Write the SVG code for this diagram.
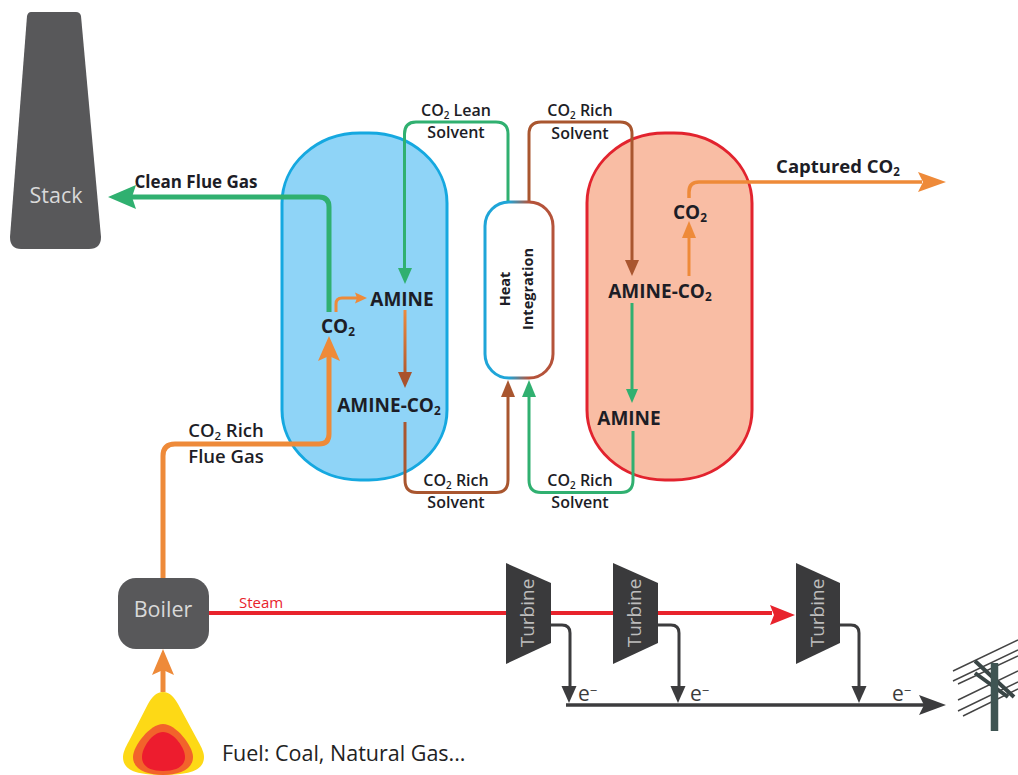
<svg xmlns="http://www.w3.org/2000/svg" width="1018" height="775" viewBox="0 0 1018 775">
<defs>
<linearGradient id="hb" x1="0" x2="1" y1="0" y2="0"><stop offset="0" stop-color="#1fa5d8"/><stop offset="0.35" stop-color="#1fa5d8"/><stop offset="0.65" stop-color="#b5533a"/><stop offset="1" stop-color="#b5533a"/></linearGradient>
<linearGradient id="or" gradientUnits="userSpaceOnUse" x1="0" x2="0" y1="310" y2="385"><stop offset="0" stop-color="#ed8a3c"/><stop offset="1" stop-color="#a9522c"/></linearGradient>
</defs>
<style>
text{font-family:"Open Sans","Liberation Sans",sans-serif;fill:#1d1d26}
.b{font-weight:700;font-size:19px}
.s{font-weight:600;font-size:16px}
.l{font-weight:600;font-size:18.5px}
.w{fill:#d9d9d9;font-size:21.5px}
.t{fill:#bdbdbd;font-size:19px}
.e{fill:#3c3c3c;font-size:21px}
.c{fill:none;stroke-linejoin:round}
.g{stroke:#30b070}.br{stroke:#a9562f}.o{stroke:#ee8a39}.dk{stroke:#3c3c3e}
.sb{font-size:62%}
</style>
<g id="absorber"><rect x="282" y="133" width="165" height="347" rx="78" ry="70" fill="#8fd4f7" stroke="#15a8e0" stroke-width="3"/></g>
<g id="stripper"><rect x="587" y="133" width="165" height="347" rx="78" ry="70" fill="#f9bda4" stroke="#e2232e" stroke-width="3"/></g>
<g id="connectors">
<path class="c g" stroke-width="5" d="M329 312V207Q329 197 319 197H132"/>
<polygon points="108,197 136,185 132,197 136,209" fill="#30b070"/>
<path class="c g" stroke-width="3" d="M404.500 272V134Q404.500 122 416 122H496Q508 122 508 134V202"/>
<polygon points="405,284 398,268 412,268" fill="#30b070"/>
<path class="c br" stroke-width="3" d="M529 202V134Q529 122 541 122H620Q632 122 632 134V264"/>
<polygon points="632,276 625,260 639,260" fill="#a9562f"/>
<path class="c o" stroke-width="3" d="M336 312V304Q336 298 342 298H357"/>
<polygon points="367,298 355,292.500 357,298 355,303.500" fill="#ee8a39"/>
<path class="c" stroke="url(#or)" stroke-width="3" d="M405 310V376"/>
<polygon points="405,388 398,372 412,372" fill="#a9522c"/>
<path class="c br" stroke-width="3" d="M405 422V480Q405 492.500 417 492.500H496Q508 492.500 508 480V392"/>
<polygon points="508,380 501,397 515,397" fill="#a9562f"/>
<path class="c g" stroke-width="3" d="M633 431V480Q633 492.500 621 492.500H541Q529 492.500 529 480V392"/>
<polygon points="529,380 522,397 536,397" fill="#30b070"/>
<path class="c g" stroke-width="3" d="M632 303V392"/>
<polygon points="632,403 626,389 638,389" fill="#30b070"/>
<path class="c o" stroke-width="3" d="M689 276V232"/>
<polygon points="689,221 682,238 696,238" fill="#ee8a39"/>
<path class="c o" stroke-width="3.500" d="M689 198V192Q689 182 699 182H922"/>
<polygon points="946,182 918,172 923,182 918,192" fill="#ee8a39"/>
<path class="c o" stroke-width="5" d="M163 578V456Q163 444 175 444H319Q329 444 329 434V352"/>
<polygon points="329,336 318,361 329,356 340,361" fill="#ee8a39"/>
<path class="c o" stroke-width="5" d="M163 692V670"/>
<polygon points="163,649 152,675 163,670 174,675" fill="#ee8a39"/>
<path class="c" stroke="#e8232c" stroke-width="4" d="M205 613H772"/>
<polygon points="795,615 770,605 774,615 770,625" fill="#e8232c"/>
<path class="c dk" stroke-width="3" d="M550 625H562Q570 625 570 633V690"/>
<polygon points="569,703 561.500,686 576.500,686" fill="#3c3c3e"/>
<path class="c dk" stroke-width="3" d="M657 625H671Q679 625 679 633V690"/>
<polygon points="678,703 670.500,686 685.500,686" fill="#3c3c3e"/>
<path class="c dk" stroke-width="3" d="M840 625H851Q859 625 859 633V690"/>
<polygon points="859,703 851.500,686 866.500,686" fill="#3c3c3e"/>
<path class="c dk" stroke-width="3.500" d="M566 705H925"/>
<polygon points="946,705 919,695 924,705 919,715" fill="#3c3c3e"/>
</g>
<g id="stack"><path d="M31 12H76Q80 12 81 16L101 237Q101 249 89 249H21Q10 249 10 237L27 16Q28 12 31 12Z" fill="#58585a"/><text class="w" x="56" y="203" text-anchor="middle">Stack</text></g>
<g id="heat-integration"><rect x="485" y="202" width="68" height="176" rx="24" fill="#fff" stroke="url(#hb)" stroke-width="3"/>
<text transform="translate(510,289) rotate(-90)" text-anchor="middle" style="font-weight:700;font-size:14.500px">Heat</text>
<text transform="translate(533,289) rotate(-90)" text-anchor="middle" style="font-weight:700;font-size:14.500px">Integration</text></g>
<g id="boiler"><rect x="118" y="578" width="91" height="71" rx="18" fill="#58585a"/><text class="w" x="163" y="617" text-anchor="middle">Boiler</text></g>
<g id="turbine1"><polygon points="506,563 551,583 551,643 506,664" fill="#3a3a3c"/><text class="t" transform="translate(534,613) rotate(-90)" text-anchor="middle">Turbine</text></g>
<g id="turbine2"><polygon points="613,563 658,583 658,643 613,664" fill="#3a3a3c"/><text class="t" transform="translate(641,613) rotate(-90)" text-anchor="middle">Turbine</text></g>
<g id="turbine3"><polygon points="796,563 840,583 840,643 796,664" fill="#3a3a3c"/><text class="t" transform="translate(824,613) rotate(-90)" text-anchor="middle">Turbine</text></g>
<g id="flame">
<path d="M163 692C170 692 174 697 178 704L198 741C202 748 204 753 204 757C204 770 190 775 163 775C136 775 123 770 123 757C123 753 125 748 129 741L148 704C152 697 156 692 163 692Z" fill="#fdd916"/>
<path d="M163 724C176 724 193 746 193 757C193 770 178 775 163 775C148 775 133 770 133 757C133 746 150 724 163 724Z" fill="#f2632b"/>
<path d="M163 732C174 732 185 748 185 757C185 767 175 771 163 771C151 771 142 767 142 757C142 748 152 732 163 732Z" fill="#ed1c2e"/>
</g>
<g id="pole" fill="none">
<path stroke="#444" stroke-width="1.400" d="M953 671L1018 640M953 681L1018 650M958 684L1018 656M958 700L1018 671M958 711L1018 682M963 716L1018 689"/>
<path d="M975 661L1014 697M975 673L1008 697" stroke="#3a4646" stroke-width="4"/>
<path d="M994.500 663V731" stroke="#3f5553" stroke-width="7.500"/>
</g>
<g id="labels">
<text class="b" x="196" y="188" text-anchor="middle" style="font-size:17px">Clean Flue Gas</text>
<text class="b" x="838" y="173" text-anchor="middle" style="font-size:18.500px">Captured CO<tspan class="sb" dy="3">2</tspan></text>
<text class="s" x="456" y="116" text-anchor="middle">CO<tspan class="sb" dy="3">2</tspan><tspan dy="-3"> Lean</tspan></text>
<text class="s" x="456" y="138" text-anchor="middle">Solvent</text>
<text class="s" x="580" y="116" text-anchor="middle">CO<tspan class="sb" dy="3">2</tspan><tspan dy="-3"> Rich</tspan></text>
<text class="s" x="580" y="139" text-anchor="middle">Solvent</text>
<text class="s" x="456" y="486" text-anchor="middle">CO<tspan class="sb" dy="3">2</tspan><tspan dy="-3"> Rich</tspan></text>
<text class="s" x="456" y="508" text-anchor="middle">Solvent</text>
<text class="s" x="580" y="486" text-anchor="middle">CO<tspan class="sb" dy="3">2</tspan><tspan dy="-3"> Rich</tspan></text>
<text class="s" x="580" y="508" text-anchor="middle">Solvent</text>
<text class="l" x="226" y="437" text-anchor="middle">CO<tspan class="sb" dy="3">2</tspan><tspan dy="-3"> Rich</tspan></text>
<text class="l" x="226" y="463" text-anchor="middle">Flue Gas</text>
<text class="b" x="402" y="306" text-anchor="middle">AMINE</text>
<text class="b" x="338" y="333" text-anchor="middle">CO<tspan class="sb" dy="3">2</tspan></text>
<text class="b" x="389" y="412" text-anchor="middle">AMINE-CO<tspan class="sb" dy="3">2</tspan></text>
<text class="b" x="660" y="298" text-anchor="middle">AMINE-CO<tspan class="sb" dy="3">2</tspan></text>
<text class="b" x="629" y="425" text-anchor="middle">AMINE</text>
<text class="b" x="690" y="219" text-anchor="middle">CO<tspan class="sb" dy="3">2</tspan></text>
<text x="239" y="608" style="fill:#e8232c;font-size:15px">Steam</text>
<text x="222" y="761" style="font-size:21.500px;fill:#222">Fuel: Coal, Natural Gas...</text>
<text class="e" x="578" y="701">e<tspan class="sb" dy="-6">−</tspan></text>
<text class="e" x="690" y="701">e<tspan class="sb" dy="-6">−</tspan></text>
<text class="e" x="892" y="701">e<tspan class="sb" dy="-6">−</tspan></text>
</g>
</svg>
